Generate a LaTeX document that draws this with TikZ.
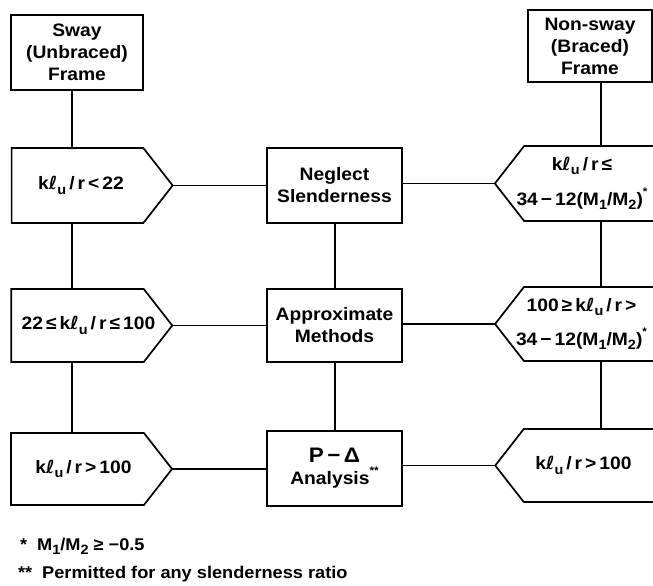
\documentclass[tikz,border=0pt]{standalone}
\usepackage{fontspec}
\setmainfont{Liberation Sans}[FakeStretch=1.07]
\newfontfamily\symf{DejaVu Sans}
\usetikzlibrary{shapes.symbols}
% lowered index such as the u in k-ell-u or the 1 in M1
\newcommand{\lowidx}[1]{\raisebox{-0.45ex}{\fontsize{13.5}{13.5}\selectfont #1}}
\newcommand{\klu}{k{\symf ℓ}\lowidx{u}\,/\,r}
\newcommand{\mratio}{(M\lowidx{1}/M\lowidx{2})}
\newcommand{\upstar}[1]{\raisebox{1.1ex}{\fontsize{11}{11}\selectfont #1}}
% two centred lines with wide spacing
\newcommand{\twolines}[3]{\begin{tabular}{@{}c@{}}#1\\[#3]#2\end{tabular}}
% text of no width, moved sideways by #1 from the node centre
\newcommand{\offtext}[2]{\makebox[0pt]{\hspace*{#1}\hspace*{#1}#2}}

\begin{document}
\begin{tikzpicture}[x=1pt,y=-1pt,
  every node/.style={font=\bfseries\fontsize{18}{22}\selectfont, line width=1.7pt,
                     outer sep=0pt, inner sep=0pt},
  framebox/.style={draw, rectangle, align=center},
  lpent/.style={draw, signal, signal to=east, signal pointer angle=104,
                minimum height=75, minimum width=161},
  rpent/.style={draw, signal, signal to=west, signal pointer angle=104,
                minimum height=75, minimum width=172},
  link/.style={line width=1.7pt},
  note/.style={anchor=west, font=\bfseries\fontsize{17}{20}\selectfont}]
\useasboundingbox (0,0) rectangle (653,586);
\clip (0,0) rectangle (653,586);
\fill[white] (0,0) rectangle (653,586);

% column lines
\coordinate (lcol) at (72,0);
\coordinate (ccol) at (335,0);
\coordinate (rcol) at (601,0);

% frame type boxes
\node[framebox, minimum width=132, minimum height=75] (sway) at (77,52.5)
  {Sway\\(Unbraced)\\Frame};
\node[framebox, minimum width=124, minimum height=72] (nsway) at (590,46)
  {Non-sway\\(Braced)\\Frame};

% sway frame criteria (node centre = centre of the flat-ended part)
\node[lpent] (L1) at (77.5,185.5) {\offtext{3.5pt}{\klu\,<\,22}};
\node[lpent, minimum height=73] (L2) at (77.5,325.5) {\offtext{11pt}{22\,≤\,\klu\,≤\,100}};
\node[lpent, minimum height=72] (L3) at (77.5,469) {\offtext{6pt}{\klu\,>\,100}};

% methods
\node[framebox, minimum width=135, minimum height=75] (N) at (334.5,185.5)
  {Neglect\\Slenderness};
\node[framebox, minimum width=135, minimum height=73] (A) at (334.5,325.5)
  {Approximate\\Methods};
\node[framebox, minimum width=135, minimum height=75] (P) at (334.5,468.5)
  {{\fontsize{21}{22}\selectfont P\,−\,Δ}\\Analysis\upstar{**}};

% non-sway frame criteria (open towards the right edge)
\node[rpent] (R1) at (595.5,183.5)
  {\offtext{-13.5pt}{\twolines{\klu\,≤}{34\,−\,12\mratio\upstar{*}}{11pt}}};
\node[rpent, minimum height=74] (R2) at (595.5,324)
  {\offtext{-14pt}{\twolines{100\,≥\,\klu\,>}{34\,−\,12\mratio\upstar{*}}{10pt}}};
\node[rpent, minimum height=73] (R3) at (595.5,465.5) {\offtext{-12pt}{\klu\,>\,100}};

% vertical connectors
\draw[link] (sway.south -| lcol) -- (L1.north -| lcol);
\draw[link] (L1.south -| lcol) -- (L2.north -| lcol);
\draw[link] (L2.south -| lcol) -- (L3.north -| lcol);
\draw[link] (N.south -| ccol) -- (A.north -| ccol);
\draw[link] (A.south -| ccol) -- (P.north -| ccol);
\draw[link] (nsway.south -| rcol) -- (R1.north -| rcol);
\draw[link] (R1.south -| rcol) -- (R2.north -| rcol);
\draw[link] (R2.south -| rcol) -- (R3.north -| rcol);

% horizontal connectors
\draw[link] (L1.east) -- (L1.east -| N.west);
\draw[link] (L2.east) -- (L2.east -| A.west);
\draw[link] (L3.east) -- (L3.east -| P.west);
\draw[link] (R1.west -| N.east) -- (R1.west);
\draw[link] (R2.west -| A.east) -- (R2.west);
\draw[link] (R3.west -| P.east) -- (R3.west);

% footnotes
\node[note] (fn1) at (20,546) {*\ \ M\lowidx{1}/M\lowidx{2} ≥ −0.5};
\node[note] (fn2) at (18,574) {**\ \ Permitted for any slenderness ratio};
\end{tikzpicture}
\end{document}
